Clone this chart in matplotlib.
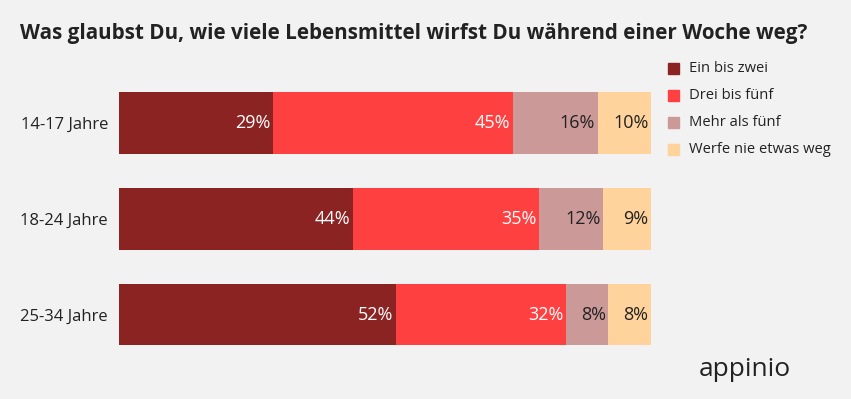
import matplotlib
matplotlib.use('Agg')
import matplotlib.pyplot as plt
import numpy as np

groups = ["14-17 Jahre", "18-24 Jahre", "25-34 Jahre"]
series = ["Ein bis zwei", "Drei bis fünf", "Mehr als fünf", "Werfe nie etwas weg"]
ein_bis_zwei = [29, 44, 52]
drei_bis_fuenf = [45, 35, 32]
mehr_als_fuenf = [16, 12, 8]
nie = [10, 9, 8]

colors = ["#8B2323", "#FF4040", "#CC9999", "#FFD39B"]
text_colors = ["white", "white", "#222222", "#222222"]
bg = "#F2F2F2"

plt.rcParams['font.family'] = ['Open Sans', 'DejaVu Sans']

fig = plt.figure(figsize=(8.51, 3.99), dpi=100, facecolor=bg)
ax = fig.add_axes([119 / 851, 1 - 362.5 / 399, 532 / 851, (362.5 - 75) / 399])
ax.set_facecolor(bg)

y = np.arange(len(groups))
left = np.zeros(len(groups))
for vals, name, c, tc in zip([ein_bis_zwei, drei_bis_fuenf, mehr_als_fuenf, nie],
                             series, colors, text_colors):
    vals = np.array(vals, dtype=float)
    ax.barh(y, vals, left=left, height=0.645, color=c, label=name)
    for yi, l, v in zip(y, left, vals):
        ax.text(l + v - 0.5, yi, f"{int(v)}%", ha='right', va='center',
                color=tc, fontsize=13)
    left += vals

ax.set_xlim(0, 100)
ax.set_ylim(2.5, -0.5)
ax.set_yticks(y)
ax.set_yticklabels(groups, fontsize=12, color="#222222")
ax.tick_params(axis='y', length=0, pad=8)
ax.set_xticks([])
for s in ax.spines.values():
    s.set_visible(False)

fig.text(20 / 851, 1 - 33 / 399, "Was glaubst Du, wie viele Lebensmittel wirfst Du während einer Woche weg?",
         fontsize=14.9, fontweight='bold', color="#222222", va='center', ha='left')

# legend
for i, (name, c) in enumerate(zip(series, colors)):
    yy = 1 - (68 + i * 27.3) / 399
    fig.patches.append(plt.Rectangle((668 / 851, yy - 5.5 / 399), 11 / 851, 11 / 399,
                                     transform=fig.transFigure, color=c))
    fig.text(689 / 851, yy, name, fontsize=10.6, color="#222222", va='center', ha='left')

fig.text(745 / 851, 1 - 369 / 399, "appinio", fontsize=19, color="#222222",
         va='center', ha='center')

fig.savefig('out.png', dpi=100, facecolor=bg)
